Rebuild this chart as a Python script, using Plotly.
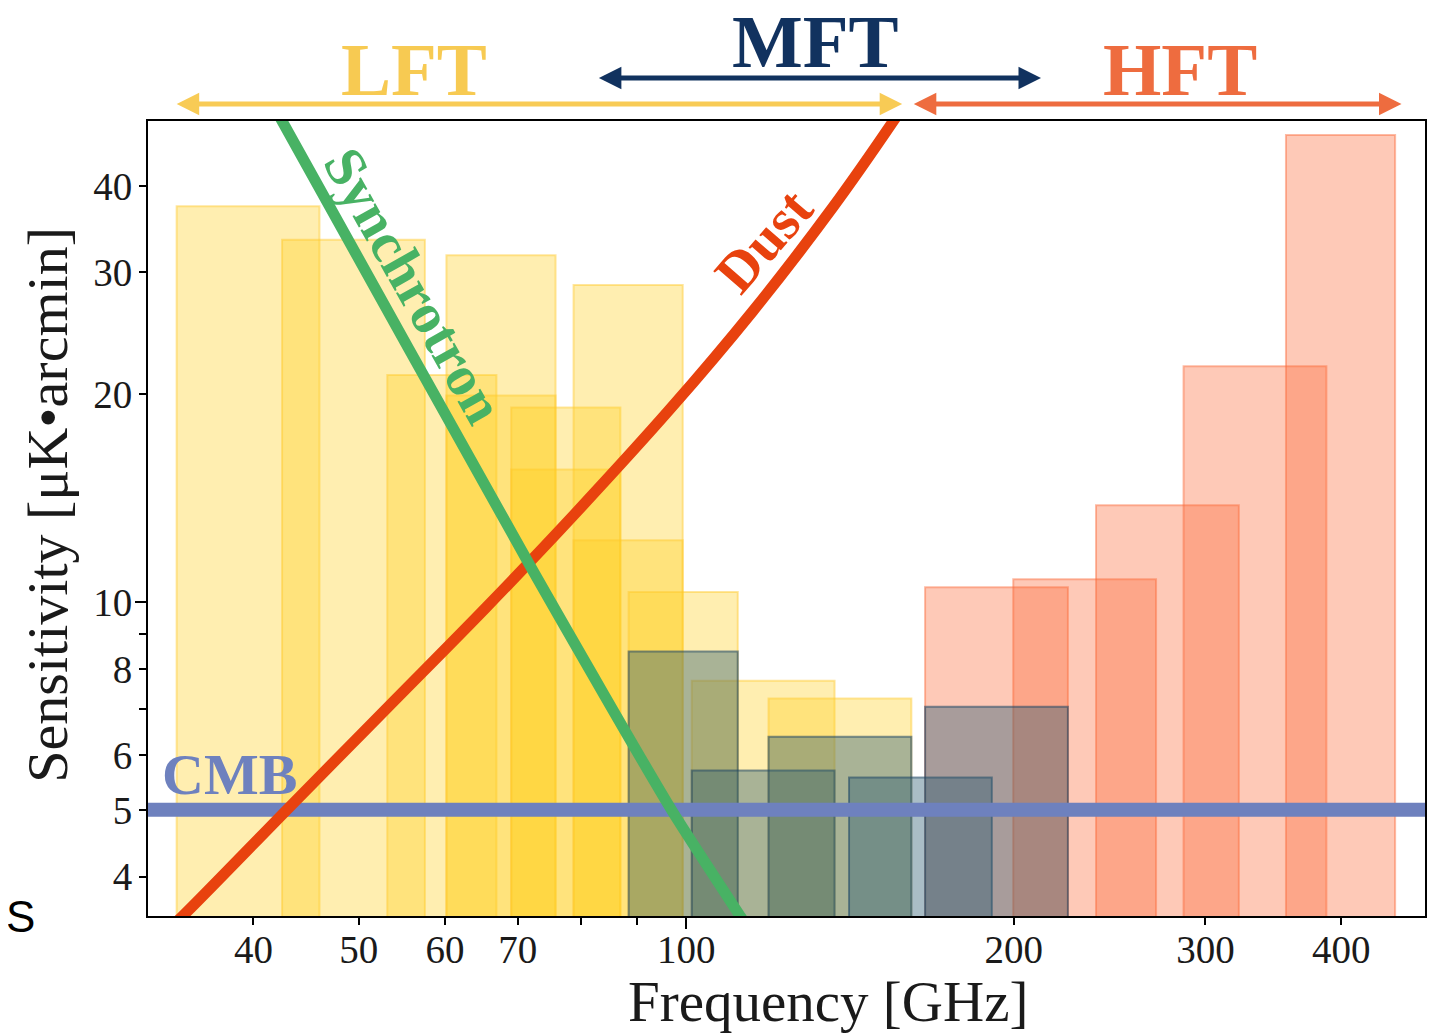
import numpy as np
import plotly.graph_objects as go

# ---------------- data ----------------
lft_center = [40, 50, 60, 68, 68, 78, 78, 89, 89, 100, 119, 140]
lft_frac_bw = [0.30, 0.30, 0.23, 0.23, 0.23, 0.23, 0.23, 0.23, 0.23, 0.23, 0.30, 0.30]
lft_sens = [37.42, 33.46, 21.31, 31.77, 19.91, 19.13, 15.55, 28.77, 12.28, 10.34, 7.69, 7.25]

mft_center = [100, 119, 140, 166, 195]
mft_frac_bw = [0.23, 0.30, 0.30, 0.30, 0.30]
mft_sens = [8.48, 5.70, 6.38, 5.57, 7.05]

hft_center = [195, 235, 280, 337, 402]
hft_frac_bw = [0.30, 0.30, 0.30, 0.30, 0.23]
hft_sens = [10.50, 10.79, 13.80, 21.95, 47.45]

sync_freq = [41.0, 42.5, 71.8, 96.9, 112.2, 115.0]
sync_sens = [55.0, 49.7, 11.3, 5.0, 3.50, 3.30]

dust_freq = [33.1, 34.5, 43.4, 53.4, 65.5, 78.0, 96.5, 115.1, 136.3, 155.0, 162.2]
dust_sens = [3.31, 3.52, 5.09, 7.09, 9.83, 13.13, 18.98, 26.36, 37.24, 49.7, 55.4]

cmb_freq = [30, 500]
cmb_sens = [5.0, 5.0]

x_tickvals = [40, 50, 60, 70, 100, 200, 300, 400]
x_minor = [80, 90]
y_tickvals = [4, 5, 6, 8, 10, 20, 30, 40]
y_minor = [7, 9]

x_range = [32.0, 477.5]
y_range = [3.51, 49.7]
floor_val = 1.0

SERIF = "Liberation Serif, Times New Roman, serif"

fig = go.Figure()


def add_bars(centers, bws, sens, fill, edge):
    for c, b, s in zip(centers, bws, sens):
        lo, hi = c * (1 - b / 2), c * (1 + b / 2)
        fig.add_trace(go.Scatter(
            x=[lo, lo, hi, hi, lo], y=[floor_val, s, s, floor_val, floor_val],
            mode="lines", fill="toself", fillcolor=fill,
            line=dict(color=edge, width=2), hoverinfo="skip", showlegend=False))


add_bars(lft_center, lft_frac_bw, lft_sens, "rgba(255,205,30,0.35)", "rgba(255,200,40,0.45)")
add_bars(hft_center, hft_frac_bw, hft_sens, "rgba(252,105,55,0.36)", "rgba(250,105,55,0.45)")
add_bars(mft_center, mft_frac_bw, mft_sens, "rgba(40,90,112,0.40)", "rgba(30,70,100,0.55)")

fig.add_trace(go.Scatter(x=cmb_freq, y=cmb_sens, mode="lines",
                         line=dict(color="#6E81BE", width=14), hoverinfo="skip", showlegend=False))
fig.add_trace(go.Scatter(x=dust_freq, y=dust_sens, mode="lines",
                         line=dict(color="#E8420E", width=11, shape="spline", smoothing=1.0),
                         hoverinfo="skip", showlegend=False))
fig.add_trace(go.Scatter(x=sync_freq, y=sync_sens, mode="lines",
                         line=dict(color="#48B264", width=11, shape="spline", smoothing=0.6),
                         hoverinfo="skip", showlegend=False))

# dummy traces for overlay axes (longer major ticks at 10 and 100)
fig.add_trace(go.Scatter(x=[], y=[], xaxis="x2", yaxis="y", showlegend=False))
fig.add_trace(go.Scatter(x=[], y=[], xaxis="x", yaxis="y2", showlegend=False))

xr = [np.log10(v) for v in x_range]
yr = [np.log10(v) for v in y_range]

tickfont = dict(family=SERIF, size=39, color="#1a1a1a")

fig.update_layout(
    width=1430, height=1025,
    margin=dict(l=140, r=11, t=113, b=117),
    paper_bgcolor="white", plot_bgcolor="white",
    xaxis=dict(type="log", range=xr, tickvals=x_tickvals, ticktext=[str(v) for v in x_tickvals],
               ticks="outside", ticklen=7, tickwidth=1.5, tickcolor="black",
               minor=dict(tickvals=x_minor, ticks="outside", ticklen=7, tickwidth=1.5, tickcolor="black"),
               showgrid=False, zeroline=False, showline=True, linecolor="black", linewidth=2,
               mirror=True, tickfont=tickfont, ticklabelstandoff=-9),
    yaxis=dict(type="log", range=yr, tickvals=y_tickvals, ticktext=[str(v) for v in y_tickvals],
               ticks="outside", ticklen=7, tickwidth=1.5, tickcolor="black",
               minor=dict(tickvals=y_minor, ticks="outside", ticklen=7, tickwidth=1.5, tickcolor="black"),
               showgrid=False, zeroline=False, showline=True, linecolor="black", linewidth=2,
               mirror=True, tickfont=tickfont, ticklabelstandoff=-1),
    xaxis2=dict(type="log", range=xr, overlaying="x", anchor="y", side="bottom",
                tickvals=[100], ticks="outside", ticklen=12, tickwidth=1.5, tickcolor="black",
                showticklabels=False, showgrid=False, zeroline=False, showline=False),
    yaxis2=dict(type="log", range=yr, overlaying="y", anchor="x", side="left",
                tickvals=[10], ticks="outside", ticklen=12, tickwidth=1.5, tickcolor="black",
                showticklabels=False, showgrid=False, zeroline=False, showline=False),
)

ann = []
# axis titles
ann.append(dict(text="Sensitivity [μK•arcmin]", xref="paper", yref="paper", x=-0.0787, y=0.5168,
                textangle=-90, showarrow=False, xanchor="center", yanchor="middle",
                font=dict(family=SERIF, size=58, color="#1a1a1a")))
ann.append(dict(text="Frequency [GHz]", xref="paper", yref="paper", x=0.5324, y=-0.1075,
                showarrow=False, xanchor="center", yanchor="middle",
                font=dict(family=SERIF, size=57, color="#1a1a1a")))
# curve labels
ann.append(dict(text="CMB", xref="paper", yref="paper", x=0.0096, y=0.178,
                showarrow=False, xanchor="left", yanchor="middle",
                font=dict(family=SERIF, size=58, color="#6E81BE", weight="bold")))
ann.append(dict(text="Synchrotron", xref="paper", yref="paper", x=0.2086, y=0.7936,
                textangle=60.5, showarrow=False, xanchor="center", yanchor="middle",
                font=dict(family=SERIF, size=57, color="#48B264", weight="bold")))
ann.append(dict(text="Dust", xref="paper", yref="paper", x=0.4819, y=0.8503,
                textangle=-49, showarrow=False, xanchor="center", yanchor="middle",
                font=dict(family=SERIF, size=57, color="#E8420E", weight="bold")))
# instrument labels
ann.append(dict(text="LFT", xref="paper", yref="paper", x=0.2082, y=1.065,
                showarrow=False, xanchor="center", yanchor="middle",
                font=dict(family=SERIF, size=75, color="#F7CA52", weight="bold")))
ann.append(dict(text="MFT", xref="paper", yref="paper", x=0.5225, y=1.100,
                showarrow=False, xanchor="center", yanchor="middle",
                font=dict(family=SERIF, size=75, color="#11325F", weight="bold")))
ann.append(dict(text="HFT", xref="paper", yref="paper", x=0.808, y=1.065,
                showarrow=False, xanchor="center", yanchor="middle",
                font=dict(family=SERIF, size=75, color="#EE6C3F", weight="bold")))
# double-headed arrows
for (x0, x1, yy, col) in [(0.0213, 0.5906, 1.0214, "#F8CB55"),
                          (0.3519, 0.6993, 1.0541, "#11325F"),
                          (0.5985, 0.9816, 1.0214, "#EE6C3F")]:
    ann.append(dict(text="", xref="x domain", yref="y domain", axref="x domain", ayref="y domain",
                    x=x1, y=yy, ax=x0, ay=yy, showarrow=True, arrowhead=2, arrowside="end+start",
                    arrowsize=0.9, arrowwidth=5, arrowcolor=col, standoff=0, startstandoff=0))
# stray letter at left edge
ann.append(dict(text="S", xref="paper", yref="paper", x=-0.1000, y=0.0,
                showarrow=False, xanchor="center", yanchor="middle",
                font=dict(family="Liberation Sans, Arial, sans-serif", size=44, color="black")))

fig.update_layout(annotations=ann)

fig.write_html("out.html")
